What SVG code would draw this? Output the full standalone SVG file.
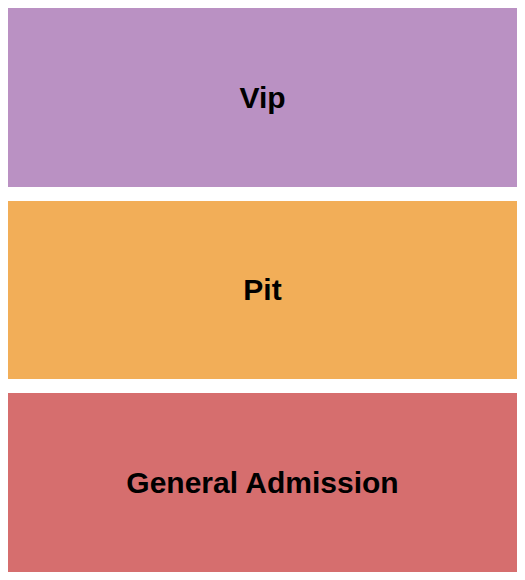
<svg xmlns="http://www.w3.org/2000/svg" width="525" height="580" viewBox="0 0 525 580">
<style>
.lbl{font-family:"Liberation Sans",Arial,sans-serif;font-weight:bold;font-size:30px;fill:#000;text-anchor:middle}
</style>
<rect width="525" height="580" fill="#fff"/>
<g id="vip">
<rect x="8" y="8" width="509" height="179" fill="#BA91C3"/>
<text class="lbl" x="262.5" y="108">Vip</text>
</g>
<g id="pit">
<rect x="8" y="201" width="509" height="178" fill="#F2AE58"/>
<text class="lbl" x="262.5" y="300">Pit</text>
</g>
<g id="general-admission">
<rect x="8" y="393" width="509" height="179" fill="#D66E6E"/>
<text class="lbl" x="262.5" y="493">General Admission</text>
</g>
<g id="connectors"/>
</svg>
